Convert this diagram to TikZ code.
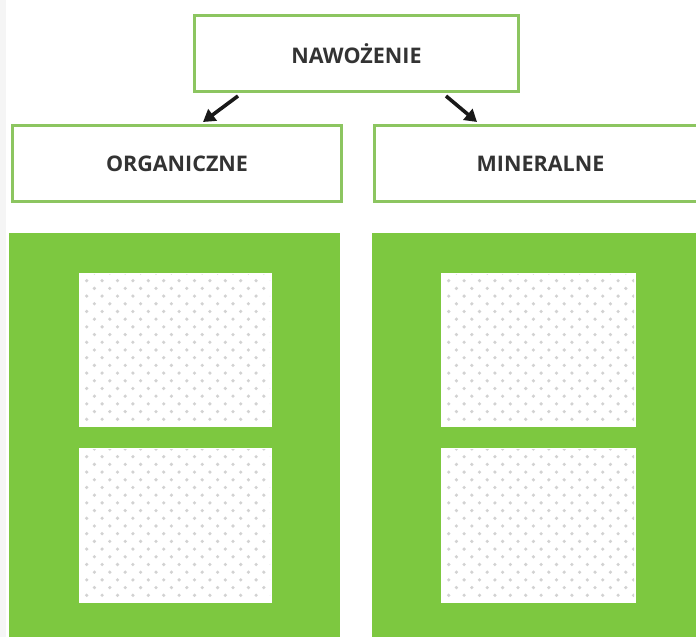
\documentclass[tikz,border=0pt]{standalone}
\usepackage{fontspec}
\setmainfont{Open Sans}
\usetikzlibrary{arrows.meta,calc}
\definecolor{panelgreen}{HTML}{7DC840}
\definecolor{bordergreen}{HTML}{8CC560}
\definecolor{txt}{HTML}{333333}
\definecolor{dotgrey}{HTML}{D2D2D2}
\tikzset{
  labelbox/.style={draw=bordergreen, line width=3pt, fill=white, font=\bfseries\fontsize{21.5}{24}\selectfont, text=txt, inner sep=0pt},
  panel/.style={fill=panelgreen, draw=none},
  arr/.style={line width=3.6pt, -{Triangle[length=12pt,width=14pt]}, black!90}
}
\newcommand{\dotcard}[4]{%
  \fill[white] (#1,#2) rectangle (#3,#4);
  \begin{scope}
    \clip (#1+2,#2+2) rectangle (#3-2,#4-2);
    \foreach \r in {0,...,22}{
      \pgfmathsetmacro{\yy}{#2+\r*7.7}
      \pgfmathsetmacro{\off}{mod(\r,2)*7.7}
      \foreach \c in {0,...,14}{
        \fill[dotgrey] ({#1+\off+\c*15.4},\yy) circle (1.8);
      }
    }
  \end{scope}
}
\begin{document}
\begin{tikzpicture}[x=1pt,y=1pt]
\useasboundingbox (0,0) rectangle (696,637);
\fill[white] (0,0) rectangle (696,637);
\fill[black!4] (0,0) rectangle (6,637);
% top box
\node[labelbox, minimum width=324pt, minimum height=76pt, anchor=north west] (top) at (193,623) {NAWOŻENIE};
\node[labelbox, minimum width=329pt, minimum height=76pt, anchor=north west] (org) at (11,513) {ORGANICZNE};
\node[labelbox, minimum width=345pt, minimum height=76pt, anchor=north west] (min) at (373,513) {\hspace*{-13pt}MINERALNE};
% arrows
\coordinate (a1s) at ($(top.south west)+(45,-3)$);
\coordinate (a1e) at ($(org.north east)+(-140,2)$);
\coordinate (a2s) at ($(top.south east)+(-74,-3)$);
\coordinate (a2e) at ($(min.north west)+(104,2)$);
\draw[arr] (a1s) -- (a1e);
\draw[arr] (a2s) -- (a2e);
% panels
\fill[panel] (9,-10) rectangle (340,404);
\fill[panel] (372,-10) rectangle (705,404);
\dotcard{79}{210}{272}{364}
\dotcard{79}{34}{272}{189}
\dotcard{441}{210}{636}{364}
\dotcard{441}{34}{636}{189}
\end{tikzpicture}
\end{document}
